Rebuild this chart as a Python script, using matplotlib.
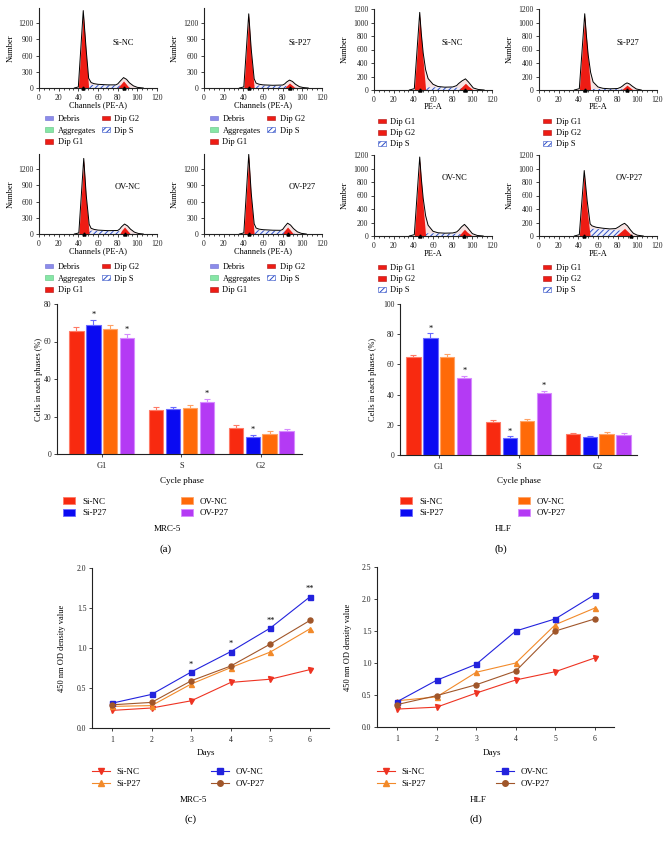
import numpy as np
import matplotlib
matplotlib.use('Agg')
import matplotlib.pyplot as plt
from matplotlib.patches import Patch
from matplotlib.lines import Line2D
from matplotlib.ticker import MultipleLocator, FormatStrFormatter

plt.rcParams['font.family'] = ['Liberation Serif', 'DejaVu Serif']
plt.rcParams['hatch.linewidth'] = 0.7

W, H = 669, 842

# ---------------- flow cytometry histograms (counts) ----------------
# ch: channel (PE-A), env: total fit, red: Dip G1 + Dip G2, s: Dip S, peaks: marker channels
mrc_si_nc = dict(
    ch=[36, 40, 45, 48, 50.5, 53, 56, 60, 70, 78, 80, 83, 86, 89, 92, 96, 100, 106],
    env=[0, 20, 1430, 700, 180, 100, 80, 68, 58, 58, 75, 135, 192, 160, 95, 40, 12, 0],
    red=[0, 0, 1380, 620, 0, 0, 0, 0, 0, 0, 0, 65, 130, 65, 0, 0, 0, 0],
    s=[0, 0, 0, 40, 55, 58, 56, 52, 50, 50, 48, 45, 35, 20, 8, 0, 0, 0],
    peaks=[45, 86])
mrc_si_p27 = dict(
    ch=[36, 40.5, 45.5, 48, 51, 53, 56, 60, 70, 80, 82, 84, 87, 90, 93, 97, 101, 106],
    env=[0, 20, 1370, 720, 170, 90, 70, 58, 50, 55, 75, 110, 146, 120, 70, 25, 8, 0],
    red=[0, 0, 1330, 600, 0, 0, 0, 0, 0, 0, 0, 40, 91, 45, 0, 0, 0, 0],
    s=[0, 0, 0, 30, 45, 48, 47, 45, 42, 40, 38, 35, 25, 12, 4, 0, 0, 0],
    peaks=[45.5, 87])
mrc_ov_nc = dict(
    ch=[36, 40.5, 45.5, 48, 51, 53, 56, 60, 70, 80, 82, 84, 87, 90, 93, 97, 101, 106],
    env=[0, 20, 1396, 720, 180, 105, 85, 72, 62, 65, 90, 135, 184, 150, 90, 35, 10, 0],
    red=[0, 0, 1356, 620, 0, 0, 0, 0, 0, 0, 0, 64, 129, 64, 0, 0, 0, 0],
    s=[0, 0, 0, 40, 58, 62, 60, 58, 55, 52, 50, 45, 35, 18, 6, 0, 0, 0],
    peaks=[45.5, 87])
mrc_ov_p27 = dict(
    ch=[36, 40.5, 45.5, 48, 51, 53, 56, 60, 70, 78, 80, 82, 85, 88, 91, 95, 99, 104],
    env=[0, 20, 1470, 760, 190, 110, 90, 80, 70, 68, 85, 135, 200, 165, 100, 40, 12, 0],
    red=[0, 0, 1430, 650, 0, 0, 0, 0, 0, 0, 0, 65, 129, 65, 0, 0, 0, 0],
    s=[0, 0, 0, 45, 68, 72, 70, 66, 62, 58, 55, 50, 38, 20, 6, 0, 0, 0],
    peaks=[45.5, 85])

hlf_si_nc = dict(
    ch=[36, 41, 46.5, 48, 50, 52.5, 55, 60, 65, 72, 80, 84, 86, 89.5, 93, 96, 101, 106, 112],
    env=[0, 20, 1150, 850, 550, 300, 170, 85, 52, 42, 45, 65, 95, 135, 165, 120, 30, 8, 0],
    red=[0, 0, 1100, 810, 430, 0, 0, 0, 0, 0, 0, 0, 0, 50, 100, 57, 0, 0, 0],
    s=[0, 0, 0, 15, 30, 38, 40, 40, 40, 38, 36, 34, 32, 28, 18, 8, 0, 0, 0],
    peaks=[46.5, 93])
hlf_si_p27 = dict(
    ch=[36, 41, 46.5, 48, 50, 52.5, 55, 60, 65, 72, 80, 83, 85, 87, 89.5, 92, 95, 99, 104],
    env=[0, 20, 1130, 840, 520, 260, 120, 45, 25, 18, 22, 40, 60, 85, 105, 90, 55, 15, 0],
    red=[0, 0, 1090, 820, 450, 0, 0, 0, 0, 0, 0, 0, 17, 40, 72, 43, 9, 0, 0],
    s=[0, 0, 0, 5, 12, 15, 16, 16, 15, 15, 14, 12, 10, 8, 5, 2, 0, 0, 0],
    peaks=[46.5, 89.5])
hlf_ov_nc = dict(
    ch=[36, 41, 46.5, 48, 50, 52.5, 55, 60, 65, 72, 80, 84, 86, 89, 92, 95, 100, 105, 111],
    env=[0, 20, 1170, 870, 560, 300, 160, 70, 48, 42, 45, 60, 85, 135, 172, 125, 35, 8, 0],
    red=[0, 0, 1120, 830, 440, 0, 0, 0, 0, 0, 0, 0, 0, 50, 100, 55, 0, 0, 0],
    s=[0, 0, 0, 15, 30, 38, 40, 40, 40, 38, 36, 34, 30, 25, 15, 5, 0, 0, 0],
    peaks=[46.5, 92])
hlf_ov_p27 = dict(
    ch=[36, 41, 46, 49, 52, 54, 58, 65, 72, 78, 81, 84, 87, 90, 93, 96, 100, 106],
    env=[0, 20, 970, 520, 180, 150, 130, 115, 105, 110, 135, 165, 188, 150, 90, 40, 12, 0],
    red=[0, 0, 930, 380, 0, 0, 0, 0, 0, 0, 38, 75, 113, 71, 28, 0, 0, 0],
    s=[0, 0, 0, 40, 100, 108, 105, 98, 92, 90, 85, 72, 50, 25, 8, 0, 0, 0],
    peaks=[46, 94])

# ---------------- cell cycle bars ----------------
phases = ['G1', 'S', 'G2']
groups = ['Si-NC', 'Si-P27', 'OV-NC', 'OV-P27']
mrc_mean = [[65.8, 23.3, 14.0], [69.0, 24.0, 9.3], [66.7, 24.4, 10.8], [62.0, 27.7, 12.1]]
mrc_err = [[1.8, 1.7, 1.5], [2.5, 1.0, 0.8], [2.0, 1.6, 1.4], [1.8, 1.9, 1.1]]
mrc_sig = [(1, 0), (3, 0), (3, 1), (1, 2)]
hlf_mean = [[64.7, 22.0, 13.9], [77.7, 11.5, 11.9], [64.7, 22.3, 13.9], [50.8, 40.8, 13.5]]
hlf_err = [[1.3, 1.4, 0.8], [2.8, 1.0, 0.6], [2.2, 1.5, 1.1], [1.5, 1.6, 1.0]]
hlf_sig = [(1, 0), (3, 0), (1, 1), (3, 1)]

# ---------------- CCK-8 growth curves ----------------
days = [1, 2, 3, 4, 5, 6]
mrc_od = [[0.22, 0.25, 0.34, 0.57, 0.61, 0.73],
          [0.27, 0.28, 0.55, 0.755, 0.95, 1.24],
          [0.31, 0.42, 0.70, 0.955, 1.25, 1.64],
          [0.29, 0.32, 0.59, 0.775, 1.05, 1.345]]
mrc_stars = [(3, '*'), (4, '*'), (5, '**'), (6, '**')]
hlf_od = [[0.28, 0.31, 0.53, 0.735, 0.865, 1.08],
          [0.41, 0.47, 0.855, 1.0, 1.6, 1.86],
          [0.395, 0.73, 0.98, 1.50, 1.69, 2.07],
          [0.35, 0.49, 0.66, 0.875, 1.50, 1.69]]

DIP_RED = '#EE1C14'
S_EDGE = '#2F4FC8'
BAR_FACE = ['#F82A10', '#0A0AF2', '#FF6A08', '#B43AF4']
BAR_EDGE = ['#FF7A66', '#6A6AFF', '#FFA366', '#D68BFF']
LINE_COL = ['#EE3322', '#F28A2A', '#2222DD', '#A0562A']
LINE_MK = ['v', '^', 's', 'o']

fig = plt.figure(figsize=(W / 100, H / 100), dpi=100)


def add_ax(l, t, r, b):
    return fig.add_axes([l / W, 1 - b / H, (r - l) / W, (b - t) / H])


def ftext(x, y, s, **kw):
    kw.setdefault('ha', 'center')
    kw.setdefault('va', 'center')
    fig.text(x / W, 1 - y / H, s, **kw)


def legend_at(handles, labels, x, y, fs, hl, hh, htp, ls):
    fig.legend(handles, labels, loc='upper left', bbox_to_anchor=(x / W, 1 - y / H),
               frameon=False, borderpad=0, borderaxespad=0, fontsize=fs,
               handlelength=hl, handleheight=hh, handletextpad=htp, labelspacing=ls)


def style(ax, size=5.5):
    for sp in ['top', 'right']:
        ax.spines[sp].set_visible(False)
    for sp in ['left', 'bottom']:
        ax.spines[sp].set_linewidth(0.8)
        ax.spines[sp].set_color('#222222')
    ax.tick_params(direction='out', length=2.5, width=0.6, labelsize=size, pad=1.5, colors='#222222')
    ax.tick_params(which='minor', direction='out', length=1.5, width=0.5)


def hist(l, t, r, b, d, top, ystep, xlab, name, name_xy, ylab_x, xlab_y):
    ax = add_ax(l, t, r, b)
    style(ax, 5.5)
    ch = d['ch']
    ax.fill_between(ch, d['env'], color='#F7E2E2', lw=0, zorder=0.5)
    ax.fill_between(ch, d['s'], facecolor='#EEF0FA', edgecolor=S_EDGE, hatch='//////', lw=0, zorder=1)
    ax.fill_between(ch, d['red'], color=DIP_RED, lw=0, zorder=2)
    ax.plot(ch, d['env'], color='black', lw=0.7, zorder=3)
    ax.plot(d['peaks'], [0, 0], ls='none', marker='^', ms=2.2, color='black', clip_on=False, zorder=4)
    ax.set_xlim(0, 120)
    ax.set_ylim(0, top)
    ax.xaxis.set_major_locator(MultipleLocator(20))
    ax.xaxis.set_minor_locator(MultipleLocator(5))
    ax.yaxis.set_major_locator(MultipleLocator(ystep))
    ftext(name_xy[0], name_xy[1], name, fontsize=6)
    ftext(ylab_x, (t + b) / 2, 'Number', fontsize=6, rotation=90)
    ftext((l + r) / 2, xlab_y, xlab, fontsize=6)
    return ax


debris = Patch(facecolor='#8C8CEA', edgecolor='#6A6AD0', lw=0.4)
aggr = Patch(facecolor='#86E6A6', edgecolor='#5CC07E', lw=0.4)
dip_red = Patch(facecolor=DIP_RED, edgecolor='#B01010', lw=0.4)
dip_s = Patch(facecolor='white', edgecolor=S_EDGE, hatch='//////', lw=0.4)


def mrc_legend(x, y):
    legend_at([debris, aggr, dip_red], ['Debris', 'Aggregates', 'Dip G1'], x, y, 6, 0.9, 0.5, 0.6, 0.45)
    legend_at([dip_red, dip_s], ['Dip G2', 'Dip S'], x + 57, y, 6, 0.9, 0.5, 0.6, 0.45)


def hlf_legend(x, y):
    legend_at([dip_red, dip_red, dip_s], ['Dip G1', 'Dip G2', 'Dip S'], x, y, 6, 0.9, 0.5, 0.6, 0.38)


# row 1
hist(39, 8.4, 157, 88, mrc_si_nc, 1470, 300, 'Channels (PE-A)', 'Si-NC', (123, 43), 11, 105)
hist(204, 8.4, 322, 88, mrc_si_p27, 1470, 300, 'Channels (PE-A)', 'Si-P27', (300, 43), 175, 105)
hist(374, 9, 492, 90, hlf_si_nc, 1200, 200, 'PE-A', 'Si-NC', (452, 43), 345, 107)
hist(539, 9, 657, 90, hlf_si_p27, 1200, 200, 'PE-A', 'Si-P27', (628, 43), 510, 107)
mrc_legend(45, 115)
mrc_legend(210, 115)
hlf_legend(378, 118)
hlf_legend(543, 118)

# row 2
hist(39, 154.4, 157, 234, mrc_ov_nc, 1470, 300, 'Channels (PE-A)', 'OV-NC', (127, 187), 11, 251)
hist(204, 154.4, 322, 234, mrc_ov_p27, 1470, 300, 'Channels (PE-A)', 'OV-P27', (302, 187), 175, 251)
hist(374, 155, 492, 236, hlf_ov_nc, 1200, 200, 'PE-A', 'OV-NC', (455, 178), 345, 254)
hist(539, 155, 657, 236, hlf_ov_p27, 1200, 200, 'PE-A', 'OV-P27', (629, 178), 510, 254)
mrc_legend(45, 263)
mrc_legend(210, 263)
hlf_legend(378, 264)
hlf_legend(543, 264)


# ---------------- bar charts ----------------
def bars(l, t, r, b, xlim, means, errs, sig, ymax, ystep, ylab_x, xlab_x):
    ax = add_ax(l, t, r, b)
    style(ax, 5.5)
    x = np.arange(len(phases))
    step, width = 0.2125, 0.18
    for i, g in enumerate(groups):
        pos = x + (i - 1.5) * step
        ax.bar(pos, means[i], width=width, color=BAR_FACE[i], edgecolor=BAR_EDGE[i], lw=0.8, zorder=2)
        ax.errorbar(pos, means[i], yerr=[np.zeros(len(phases)), errs[i]], fmt='none',
                    ecolor=BAR_EDGE[i], elinewidth=0.8, capsize=2.2, capthick=0.8, zorder=3)
    for gi, pi in sig:
        ax.annotate('*', (x[pi] + (gi - 1.5) * step, means[gi][pi] + errs[gi][pi]),
                    xytext=(0, 0.5), textcoords='offset points', ha='center', va='bottom', fontsize=6)
    ax.set_xlim(*xlim)
    ax.set_ylim(0, ymax)
    ax.set_xticks(x)
    ax.set_xticklabels(phases, fontsize=6)
    ax.tick_params(axis='x', pad=3)
    ax.yaxis.set_major_locator(MultipleLocator(ystep))
    ftext(ylab_x, (t + b) / 2, 'Cells in each phases (%)', fontsize=6, rotation=90)
    ftext(xlab_x, 481, 'Cycle phase', fontsize=6.5)
    return ax


bars(57, 304, 302, 454, (-0.5625, 2.5125), mrc_mean, mrc_err, mrc_sig, 80, 20, 39, 182)
bars(400, 304, 637, 455, (-0.4875, 2.4875), hlf_mean, hlf_err, hlf_sig, 100, 20, 373, 519)

bar_handles = [Patch(facecolor=BAR_FACE[i], edgecolor=BAR_EDGE[i], lw=0.6) for i in range(4)]
legend_at(bar_handles[:2], groups[:2], 63, 497, 6.5, 1.35, 0.8, 0.75, 0.35)
legend_at(bar_handles[2:], groups[2:], 181, 497, 6.5, 1.35, 0.8, 0.75, 0.35)
legend_at(bar_handles[:2], groups[:2], 400, 497, 6.5, 1.35, 0.8, 0.75, 0.35)
legend_at(bar_handles[2:], groups[2:], 518, 497, 6.5, 1.35, 0.8, 0.75, 0.35)
ftext(167, 529, 'MRC-5', fontsize=6.5)
ftext(503, 529, 'HLF', fontsize=6.5)
ftext(166, 549, '(a)', fontsize=8)
ftext(501, 549, '(b)', fontsize=8)


# ---------------- growth curves ----------------
def curves(l, t, r, b, od, ymax, ylab_x, xlab_x, stars=None):
    ax = add_ax(l, t, r, b)
    style(ax, 5.5)
    for i, g in enumerate(groups):
        ax.plot(days, od[i], color=LINE_COL[i], lw=0.8, marker=LINE_MK[i], ms=3.6,
                mec=LINE_COL[i], mfc=LINE_COL[i], label=g, clip_on=False, zorder=3)
    if stars:
        top = np.max(od, axis=0)
        for d, s in stars:
            ax.annotate(s, (d, top[days.index(d)]), xytext=(0, 2.5), textcoords='offset points',
                        ha='center', va='bottom', fontsize=6)
    ax.set_xlim(0.495, 6.48)
    ax.set_ylim(0, ymax)
    ax.set_xticks(days)
    ax.yaxis.set_major_locator(MultipleLocator(0.5))
    ax.yaxis.set_major_formatter(FormatStrFormatter('%.1f'))
    ax.tick_params(axis='x', pad=3)
    ftext(ylab_x, (t + b) / 2, '450 nm OD density value', fontsize=6, rotation=90)
    ftext(xlab_x, 753, 'Days', fontsize=6.5)
    return ax


curves(92, 568, 329, 728, mrc_od, 2.0, 62, 206, mrc_stars)
curves(377, 567, 614, 727, hlf_od, 2.5, 348, 492)

line_handles = [Line2D([], [], color=LINE_COL[i], lw=0.8, marker=LINE_MK[i], ms=4,
                       mec=LINE_COL[i], mfc=LINE_COL[i]) for i in range(4)]
legend_at(line_handles[:2], groups[:2], 92, 768, 6.5, 2.0, 0.7, 0.75, 0.35)
legend_at(line_handles[2:], groups[2:], 211, 768, 6.5, 2.0, 0.7, 0.75, 0.35)
legend_at(line_handles[:2], groups[:2], 377, 768, 6.5, 2.0, 0.7, 0.75, 0.35)
legend_at(line_handles[2:], groups[2:], 496, 768, 6.5, 2.0, 0.7, 0.75, 0.35)
ftext(193, 800, 'MRC-5', fontsize=6.5)
ftext(478, 800, 'HLF', fontsize=6.5)
ftext(191, 819, '(c)', fontsize=8)
ftext(476, 819, '(d)', fontsize=8)

fig.savefig('out.png', dpi=100)
